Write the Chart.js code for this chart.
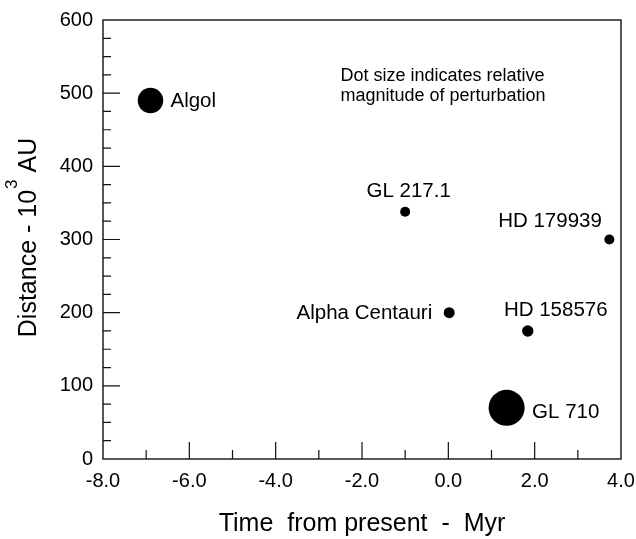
<!DOCTYPE html>
<html lang="en">
<head>
  <meta charset="UTF-8">
  <title>Stellar perturbers</title>
  <script src="https://cdn.jsdelivr.net/npm/chart.js"></script>
  <style>
    html, body { margin: 0; padding: 0; background: #fff; }
  </style>
</head>
<body>
  <canvas id="starChart" width="636" height="539"></canvas>

  <script>
    // data
    const starNames = ["Algol", "GL 217.1", "HD 179939", "Alpha Centauri", "HD 158576", "GL 710"];
    const timeMyr = [-6.9, -1.0, 3.73, 0.02, 1.84, 1.35];
    const distanceKAU = [490, 338, 300, 200, 175, 70];
    const relMagnitude = [6.5, 1.0, 1.0, 1.2, 1.3, 13];

    const xTicks = [-8, -6, -4, -2, 0, 2, 4];
    const xTickLabels = ["-8.0", "-6.0", "-4.0", "-2.0", "0.0", "2.0", "4.0"];
    const yTicks = [0, 100, 200, 300, 400, 500, 600];
    const yTickLabels = ["0", "100", "200", "300", "400", "500", "600"];

    const noteLines = ["Dot size indicates relative", "magnitude of perturbation"];

    const FONT = "'Liberation Sans', Arial, Helvetica, sans-serif";

    // where each name sits relative to its dot (pixels)
    const labelPlace = {
      "Algol":          { align: "left",   dx: 20,  dy: 6.5 },
      "GL 217.1":       { align: "center", dx: 3.5, dy: -15 },
      "HD 179939":      { align: "right",  dx: -7.5, dy: -12.5 },
      "Alpha Centauri": { align: "right",  dx: -17, dy: 6.5 },
      "HD 158576":      { align: "center", dx: 28,  dy: -14.5 },
      "GL 710":         { align: "left",   dx: 25.5, dy: 10 }
    };

    const dotRadius = m => 5 * Math.sqrt(m);

    // frame + inward tick marks, labels, note, y title
    const frameTicks = {
      id: "frameTicks",
      beforeDatasetsDraw(chart) {
        const { ctx, chartArea: a, scales: { x, y } } = chart;
        ctx.save();
        ctx.strokeStyle = "#111";
        ctx.lineWidth = 1.4;
        ctx.strokeRect(a.left, a.top, a.right - a.left, a.bottom - a.top);
        ctx.lineWidth = 1.2;
        ctx.beginPath();
        for (let v = -7; v < 4; v++) {
          const px = x.getPixelForValue(v);
          const len = (v % 2 === 0) ? 17 : 9;
          ctx.moveTo(px, a.bottom);
          ctx.lineTo(px, a.bottom - len);
        }
        for (let v = 25; v < 600; v += 25) {
          const py = y.getPixelForValue(v);
          const len = (v % 100 === 0) ? 17 : 8;
          ctx.moveTo(a.left, py);
          ctx.lineTo(a.left + len, py);
        }
        ctx.stroke();
        ctx.restore();
      },
      afterDatasetsDraw(chart) {
        const { ctx, scales: { x, y } } = chart;
        const meta = chart.getDatasetMeta(0);
        ctx.save();
        ctx.fillStyle = "#000";

        // star names
        ctx.font = "20.5px " + FONT;
        ctx.textBaseline = "alphabetic";
        meta.data.forEach((pt, i) => {
          const p = labelPlace[starNames[i]];
          ctx.textAlign = p.align;
          ctx.fillText(starNames[i], pt.x + p.dx, pt.y + p.dy);
        });

        // note text
        ctx.font = "18px " + FONT;
        ctx.textAlign = "left";
        const nx = x.getPixelForValue(-2.5);
        const ny = y.getPixelForValue(516);
        noteLines.forEach((t, i) => ctx.fillText(t, nx, ny + i * 19.5));

        // y axis title with superscript
        const a = chart.chartArea;
        const part1 = "Distance - 10", sup = "3", part2 = " AU";
        ctx.font = "25px " + FONT;
        const w1 = ctx.measureText(part1).width;
        const w3 = ctx.measureText(part2).width;
        ctx.font = "17px " + FONT;
        const w2 = ctx.measureText(sup).width + 1;
        const total = w1 + w2 + w3;
        ctx.translate(36, (a.top + a.bottom) / 2 - 2);
        ctx.rotate(-Math.PI / 2);
        let sx = -total / 2;
        ctx.font = "25px " + FONT;
        ctx.fillText(part1, sx, 0);
        sx += w1 + 1;
        ctx.font = "17px " + FONT;
        ctx.fillText(sup, sx, -19);
        sx += w2 - 1;
        ctx.font = "25px " + FONT;
        ctx.fillText(part2, sx, 0);
        ctx.restore();
      }
    };

    const ctx = document.getElementById("starChart").getContext("2d");
    new Chart(ctx, {
      type: "scatter",
      data: {
        datasets: [{
          data: timeMyr.map((t, i) => ({ x: t, y: distanceKAU[i] })),
          backgroundColor: "#000",
          borderWidth: 0,
          pointRadius: relMagnitude.map(dotRadius),
          pointHoverRadius: relMagnitude.map(dotRadius)
        }]
      },
      options: {
        responsive: false,
        animation: false,
        events: [],
        layout: { autoPadding: false, padding: { top: 20, right: 15, left: 0, bottom: 0 } },
        plugins: { legend: { display: false }, tooltip: { enabled: false } },
        scales: {
          x: {
            type: "linear",
            min: -8, max: 4,
            afterBuildTicks: s => { s.ticks = xTicks.map(v => ({ value: v })); },
            afterFit: s => { s.height = 80; s.paddingLeft = 0; s.paddingRight = 0; },
            grid: { display: false, drawTicks: false },
            border: { display: false },
            ticks: {
              callback: (v, i) => xTickLabels[i],
              color: "#000",
              font: { family: FONT, size: 20 },
              padding: 10,
              maxRotation: 0,
              autoSkip: false
            },
            title: {
              display: true,
              text: "Time  from present  -  Myr",
              color: "#000",
              font: { family: FONT, size: 25 },
              padding: { top: 0, bottom: 0 }
            }
          },
          y: {
            type: "linear",
            min: 0, max: 600,
            afterBuildTicks: s => { s.ticks = yTicks.map(v => ({ value: v })); },
            afterFit: s => { s.width = 103; s.paddingTop = 0; s.paddingBottom = 0; },
            grid: { display: false, drawTicks: false },
            border: { display: false },
            ticks: {
              callback: (v, i) => yTickLabels[i],
              color: "#000",
              font: { family: FONT, size: 20 },
              padding: 10,
              autoSkip: false
            }
          }
        }
      },
      plugins: [frameTicks]
    });
  </script>
</body>
</html>
